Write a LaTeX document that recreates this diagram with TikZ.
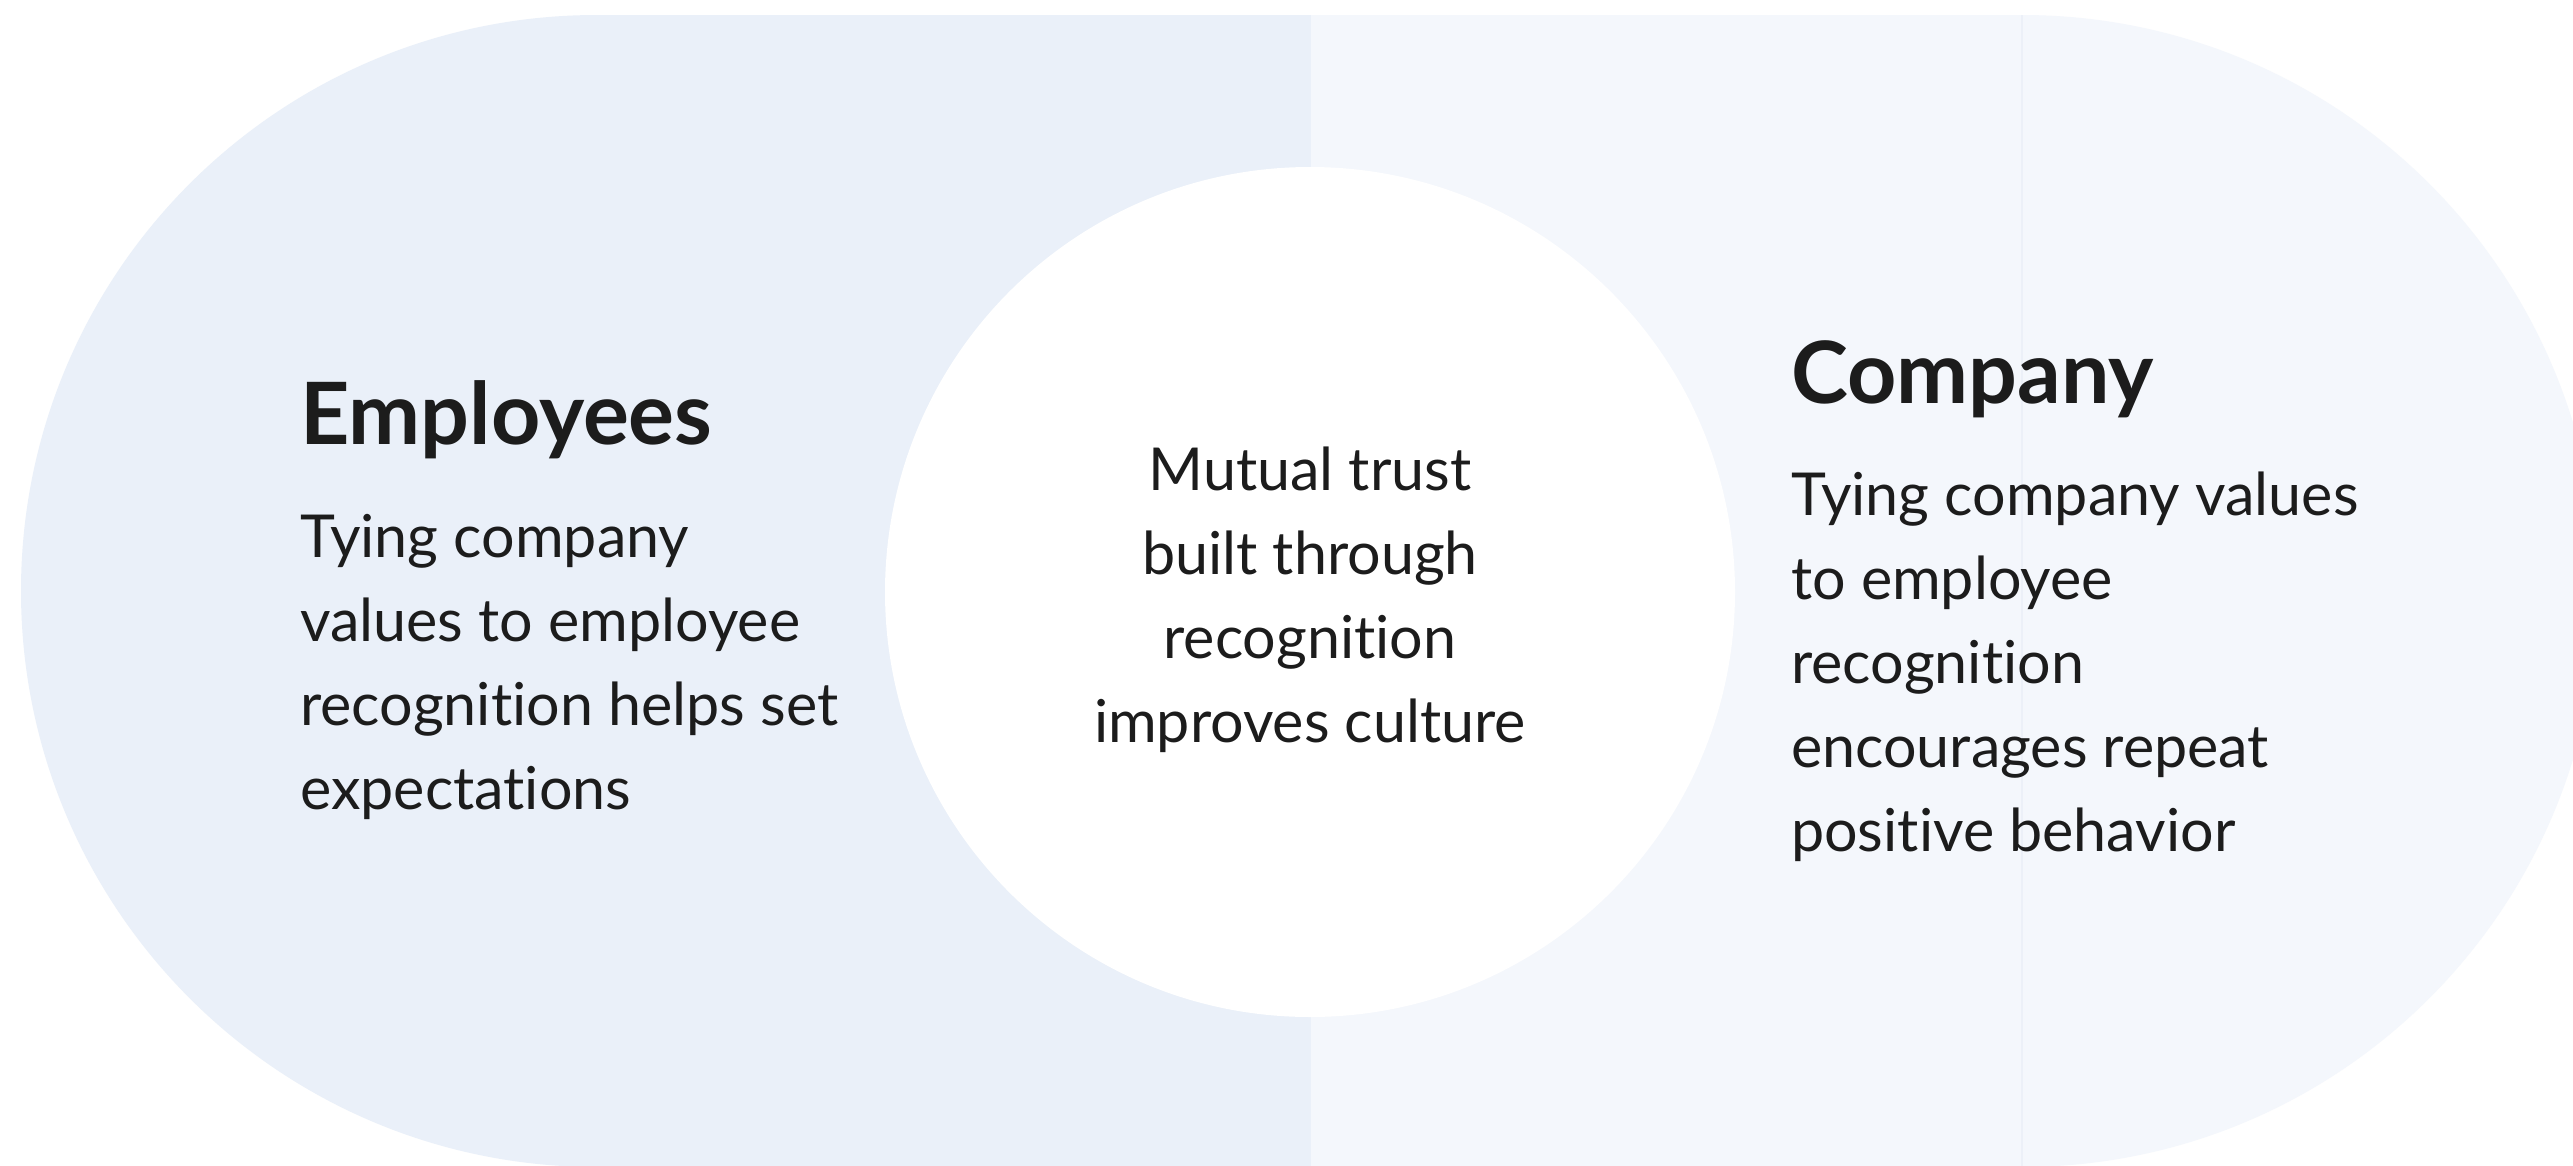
\documentclass[tikz,border=0pt]{standalone}
\usepackage{fontspec}
\setmainfont{Lato}[Ligatures={NoCommon,NoContextual}]
\definecolor{leftc}{HTML}{EAF0F9}
\definecolor{rightc}{HTML}{F4F7FC}
\definecolor{seamc}{HTML}{ECF0F8}
\definecolor{ink}{HTML}{1C1C1C}
\tikzset{
  headtxt/.style={anchor=base west, inner sep=0pt, text=ink, font=\fontsize{86}{100}\selectfont\bfseries},
  bodytxt/.style={anchor=base west, inner sep=0pt, text=ink, font=\fontsize{59.2}{84}\selectfont},
  midtxt/.style={anchor=base, inner sep=0pt, text=ink, font=\fontsize{59.2}{84}\selectfont},
}
\begin{document}
\begin{tikzpicture}[x=1pt,y=-1pt]
\useasboundingbox (0,0) rectangle (2573,1165);
\fill[white] (0,0) rectangle (2573,1165);
\begin{scope}
  \clip (0,0) rectangle (2573,1165);
  \fill[leftc] (597,591) circle (576pt);
  \fill[leftc] (597,15) rectangle (1311,1170);
  \fill[rightc] (1311,15) rectangle (2022,1170);
  \fill[rightc] (2022,591) circle (576pt);
  \draw[seamc, line width=2pt] (2022,15) -- (2022,1170);
\end{scope}
\node[circle, fill=white, minimum size=850pt, inner sep=0pt] (mid) at (1310,592) {};

% left block
\node[headtxt] (lh) at (300,444) {Employees};
\node[bodytxt] (l1) at (300,557) {Tying company};
\node[bodytxt] (l2) at (300,641) {values to employee};
\node[bodytxt] (l3) at (300,725) {recognition helps set};
\node[bodytxt] (l4) at (300,809) {expectations};

% centre block
\node[midtxt] (m1) at (1310,490) {Mutual trust};
\node[midtxt] (m2) at (1310,574) {built through};
\node[midtxt] (m3) at (1310,658) {recognition};
\node[midtxt] (m4) at (1310,742) {improves culture};

% right block
\node[headtxt] (rh) at (1791,403) {Company};
\node[bodytxt] (r1) at (1791,515) {Tying company values};
\node[bodytxt] (r2) at (1791,599) {to employee};
\node[bodytxt] (r3) at (1791,683) {recognition};
\node[bodytxt] (r4) at (1791,767) {encourages repeat};
\node[bodytxt] (r5) at (1791,851) {positive behavior};
\end{tikzpicture}
\end{document}
